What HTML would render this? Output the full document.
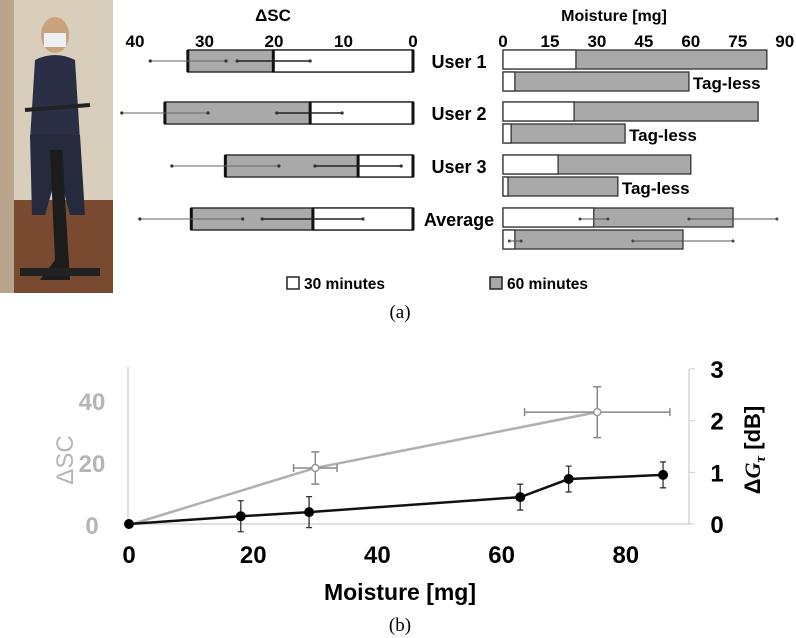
<!DOCTYPE html>
<html><head><meta charset="utf-8"><style>
body{margin:0;background:#fff;width:796px;height:638px;overflow:hidden}
svg{display:block;font-family:"Liberation Sans",Arial,sans-serif}
</style></head><body>
<svg id="fig" width="796" height="638" viewBox="0 0 796 638">
<g>
<rect x="0" y="0" width="113" height="293" fill="#d9cdbb"/>
<rect x="0" y="200" width="113" height="93" fill="#7a4a30"/>
<rect x="0" y="0" width="14" height="293" fill="#b8a58c"/>
<ellipse cx="55" cy="35" rx="14" ry="18" fill="#c9a27e"/>
<rect x="44" y="33" width="22" height="14" fill="#eef0f2"/>
<path d="M35 60 Q55 50 75 60 L80 140 L30 140 Z" fill="#2a2f45"/>
<path d="M30 135 L80 135 L85 215 L70 215 L58 170 L45 215 L32 215 Z" fill="#252a3c"/>
<path d="M50 150 L55 260 L40 280 L70 280 L62 150 Z" fill="#1c1c1c"/>
<rect x="20" y="268" width="80" height="8" fill="#222"/>
<path d="M25 110 L90 105" stroke="#222" stroke-width="4"/>
</g>
<g id="a"></g>
<g id="b"></g>
<text x="400" y="318" font-family="Liberation Serif,serif" font-size="19" text-anchor="middle">(a)</text>
<text x="400" y="631" font-family="Liberation Serif,serif" font-size="19" text-anchor="middle">(b)</text>
</svg>
<script>
const rows=["User 1","User 2","User 3","Average"];
const sc30=[20.1,14.8,7.9,14.4];
const sc60=[32.4,35.7,27,31.9];
const sc30ErrLo=[14.8,10.2,1.7,7.2];
const sc30ErrHi=[25.3,19.6,14.1,21.7];
const sc60ErrLo=[26.9,29.5,19.3,24.5];
const sc60ErrHi=[37.8,41.9,34.7,39.3];
const scTicks=[40,30,20,10,0];
const mTag30=[23.3,22.7,17.6,29];
const mTag60=[84.3,81.5,60,73.5];
const mLess30=[3.8,2.6,1.6,3.8];
const mLess60=[59.4,39,36.7,57.5];
const mTicks=[0,15,30,45,60,75,90];
const lineX=[0,30,75.4];
const lineSC=[0,18.4,36.4];
const lineXErr=[0,3.5,11.7];
const lineYErr=[0,5.2,8.2];
const dotX=[0,18,29,63,70.8,86];
const dotG=[0,0.15,0.23,0.52,0.87,0.95];
const dotErr=[0.05,0.3,0.3,0.25,0.25,0.25];
const bTicksX=[0,20,40,60,80];
const bTicksL=[0,20,40];
const bTicksR=[0,1,2,3];
const NS="http://www.w3.org/2000/svg";
function mk(p,t,a,txt){const e=document.createElementNS(NS,t);for(const k in a)e.setAttribute(k,a[k]);if(txt!==undefined)e.textContent=txt;p.appendChild(e);return e;}
const A=document.getElementById('a');
const sx=v=>413-v*6.95;
const mx=v=>503+v*3.13;
const rowY=[50,102,155,208];
let t=mk(A,'text',{x:273,y:21,'font-size':17,'font-weight':'bold','text-anchor':'middle'},'ΔSC');

t=mk(A,'text',{x:614,y:21,'font-size':16,'font-weight':'bold','text-anchor':'middle'},'Moisture [mg]');

scTicks.forEach(v=>{const e=mk(A,'text',{x:sx(v),y:47,'font-size':17,'font-weight':'bold','text-anchor':'middle'},v);
});
mTicks.forEach(v=>{const e=mk(A,'text',{x:mx(v),y:47,'font-size':17,'font-weight':'bold','text-anchor':'middle'},v);
});
rows.forEach((r,i)=>{
 const y=rowY[i],h=22;
 let e=mk(A,'rect',{x:sx(sc60[i]),y:y,width:sx(0)-sx(sc60[i]),height:h,fill:'#a9a9a9',stroke:'#333','stroke-width':1.5});
 
 e=mk(A,'rect',{x:sx(sc30[i]),y:y,width:sx(0)-sx(sc30[i]),height:h,fill:'#fff',stroke:'#333','stroke-width':1.5});
 
 [sc60[i],sc30[i],0].forEach(v=>mk(A,'line',{x1:sx(v),x2:sx(v),y1:y,y2:y+h,stroke:'#111','stroke-width':3}));
 e=mk(A,'line',{x1:sx(sc60ErrLo[i]),x2:sx(sc60ErrHi[i]),y1:y+11,y2:y+11,stroke:'#666','stroke-width':1});
 
 e=mk(A,'line',{x1:sx(sc30ErrLo[i]),x2:sx(sc30ErrHi[i]),y1:y+11,y2:y+11,stroke:'#222','stroke-width':1.5});
 
 [sc60ErrLo[i],sc60ErrHi[i],sc30ErrLo[i],sc30ErrHi[i]].forEach(v=>mk(A,'circle',{cx:sx(v),cy:y+11,r:1.6,fill:'#333'}));
 e=mk(A,'text',{x:459,y:y+18,'font-size':18,'font-weight':'bold','text-anchor':'middle'},r);
 
 const h2=19;
 e=mk(A,'rect',{x:mx(0),y:y,width:mx(mTag60[i])-mx(0),height:h2,fill:'#a9a9a9',stroke:'#333','stroke-width':1.3});
 
 e=mk(A,'rect',{x:mx(0),y:y,width:mx(mTag30[i])-mx(0),height:h2,fill:'#fff',stroke:'#333','stroke-width':1.3});
 
 const y2=y+22;
 e=mk(A,'rect',{x:mx(0),y:y2,width:mx(mLess60[i])-mx(0),height:h2,fill:'#a9a9a9',stroke:'#333','stroke-width':1.3});
 
 e=mk(A,'rect',{x:mx(0),y:y2,width:mx(mLess30[i])-mx(0),height:h2,fill:'#fff',stroke:'#333','stroke-width':1.3});
 
 if(i<3){e=mk(A,'text',{x:mx(mLess60[i])+4,y:y2+17,'font-size':17,'font-weight':'bold'},'Tag-less');
 }
});
[[24.6,33.5,219],[59.4,87.5,219],[2,5.8,241],[41.5,73.5,241]].forEach(a=>{
 const e=mk(A,'line',{x1:mx(a[0]),x2:mx(a[1]),y1:a[2],y2:a[2],stroke:'#555','stroke-width':1});
 
 mk(A,'circle',{cx:mx(a[0]),cy:a[2],r:1.5,fill:'#444'});mk(A,'circle',{cx:mx(a[1]),cy:a[2],r:1.5,fill:'#444'});});
let lg=mk(A,'rect',{x:287,y:277,width:12,height:12,fill:'#fff',stroke:'#222','stroke-width':1.5});

lg=mk(A,'text',{x:304,y:289,'font-size':15.5,'font-weight':'bold'},'30 minutes');

lg=mk(A,'rect',{x:490,y:277,width:12,height:12,fill:'#a9a9a9',stroke:'#222','stroke-width':1.5});

lg=mk(A,'text',{x:507,y:289,'font-size':15.5,'font-weight':'bold'},'60 minutes');


// panel b
const B=document.getElementById('b');
const bx=v=>129+v*6.21;
const byL=v=>525-v*3.1;
const byR=v=>524-v*51.7;
mk(B,'line',{x1:128,x2:128,y1:367,y2:524,stroke:'#ccc','stroke-width':1.2});
mk(B,'line',{x1:128,x2:691,y1:524,y2:524,stroke:'#ccc','stroke-width':1.2});
mk(B,'line',{x1:689,x2:689,y1:369,y2:524,stroke:'#ccc','stroke-width':1.2});
bTicksR.forEach(v=>{mk(B,'line',{x1:689,x2:695,y1:byR(v),y2:byR(v),stroke:'#ccc'});
 const e=mk(B,'text',{x:717,y:byR(v)+9,'font-size':24,'font-weight':'bold','text-anchor':'middle'},v);
 });
bTicksL.forEach(v=>{const e=mk(B,'text',{x:92,y:byL(v)+9,'font-size':24,'font-weight':'bold',fill:'#b5b5b5','text-anchor':'middle'},v);
 });
bTicksX.forEach(v=>{const e=mk(B,'text',{x:bx(v),y:563,'font-size':24,'font-weight':'bold','text-anchor':'middle'},v);
 });
let e=mk(B,'text',{x:400,y:600,'font-size':23,'font-weight':'bold','text-anchor':'middle'},'Moisture [mg]');

e=mk(B,'text',{x:0,y:0,'font-size':24,fill:'#b5b5b5','text-anchor':'middle',transform:'translate(73,460) rotate(-90)'},'ΔSC');

e=mk(B,'text',{x:0,y:0,'font-size':22,'font-weight':'bold','text-anchor':'middle',transform:'translate(760,450) rotate(-90)'});

e.innerHTML='Δ<tspan font-family="Liberation Serif,serif" font-style="italic">G</tspan><tspan font-family="Liberation Serif,serif" font-style="italic" font-size="15" dy="5">τ</tspan><tspan dy="-5"> [dB]</tspan>';
e=mk(B,'polyline',{points:lineX.map((v,i)=>bx(v)+','+byL(lineSC[i])).join(' '),fill:'none',stroke:'#b0b0b0','stroke-width':2.5});

lineX.forEach((v,i)=>{if(i==0)return;const cx=bx(v),cy=byL(lineSC[i]);
 const x1=bx(v-lineXErr[i]),x2=bx(v+lineXErr[i]),y1=byL(lineSC[i]-lineYErr[i]),y2=byL(lineSC[i]+lineYErr[i]);
 mk(B,'path',{d:`M${x1} ${cy}H${x2}M${x1} ${cy-4}V${cy+4}M${x2} ${cy-4}V${cy+4}M${cx} ${y1}V${y2}M${cx-4} ${y1}H${cx+4}M${cx-4} ${y2}H${cx+4}`,stroke:'#888','stroke-width':1.5,fill:'none'});
 const c=mk(B,'circle',{cx:cx,cy:cy,r:3.5,fill:'#fff',stroke:'#999','stroke-width':1.5});
 });
e=mk(B,'polyline',{points:dotX.map((v,i)=>bx(v)+','+byR(dotG[i])).join(' '),fill:'none',stroke:'#111','stroke-width':2.5});

dotX.forEach((v,i)=>{const cx=bx(v),cy=byR(dotG[i]);const y1=byR(dotG[i]-dotErr[i]),y2=byR(dotG[i]+dotErr[i]);
 mk(B,'path',{d:`M${cx} ${y1}V${y2}M${cx-3} ${y1}H${cx+3}M${cx-3} ${y2}H${cx+3}`,stroke:'#333','stroke-width':1.3,fill:'none'});
 const c=mk(B,'circle',{cx:cx,cy:cy,r:5,fill:'#000'});
 });
</script>
</body></html>
